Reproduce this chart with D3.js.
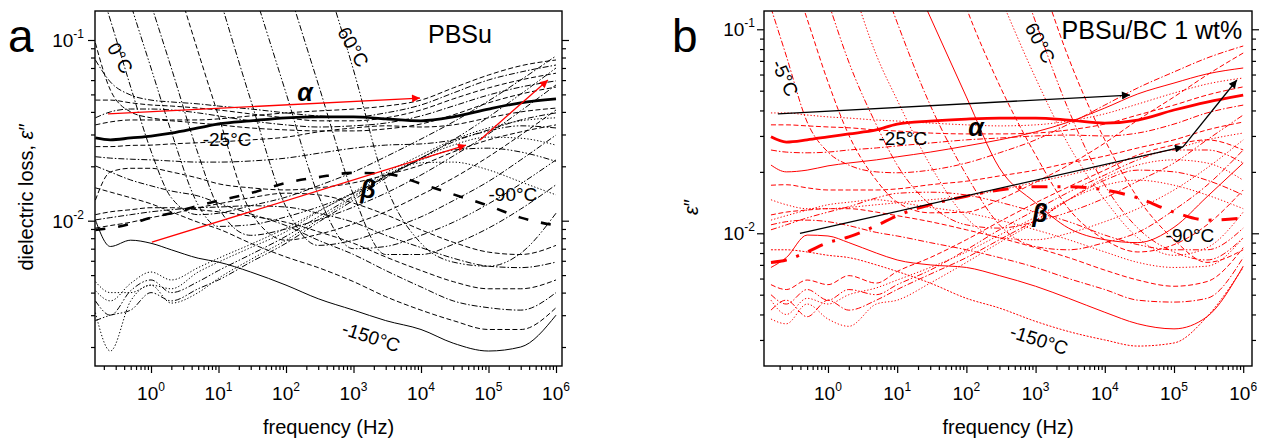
<!DOCTYPE html>
<html>
<head>
<meta charset="utf-8">
<script src="https://cdn.jsdelivr.net/npm/d3@7"></script>
<style>
  body { margin: 0; background: #fff; }
  svg { font-family: Arial, "Liberation Sans", Helvetica, sans-serif; }
</style>
</head>
<body>
<svg id="chart" width="1266" height="441"></svg>
<script>
// shared frequency grid (Hz)
const freq = [0.15, 0.25, 0.5, 1, 2, 5, 10, 30, 100, 300, 1e3, 3e3, 1e4, 3e4, 1e5, 3e5, 1e6];

// measurement temperatures (°C), one row of loss values per temperature
const temps = [-150, -140, -130, -120, -110, -100, -90, -80, -70, -60, -50, -45, -40, -35, -30,
  -25, -20, -15, -10, -5, 0, 5, 10, 15, 20, 30, 40, 50, 60];

// panel a : PBSu
const lossA = [
  [0.0101,0.0072,0.0078,0.0075,0.0069,0.0062,0.0059,0.0052,0.0044,0.0037,0.0032,0.0028,0.0025,0.0021,0.0019,0.0020,0.0030],
  [0.0152,0.0144,0.0134,0.0124,0.0112,0.0098,0.0090,0.0075,0.0063,0.0055,0.0046,0.0038,0.0032,0.0028,0.0025,0.0025,0.0033],
  [0.0201,0.0186,0.0168,0.0156,0.0146,0.0137,0.0125,0.0109,0.0094,0.0078,0.0065,0.0053,0.0043,0.0036,0.0033,0.0032,0.0040],
  [0.0108,0.0112,0.0115,0.0118,0.0118,0.0115,0.0112,0.0106,0.0098,0.0087,0.0075,0.0063,0.0053,0.0046,0.0042,0.0042,0.0047],
  [0.0101,0.0104,0.0108,0.0112,0.0115,0.0118,0.0119,0.0121,0.0119,0.0110,0.0098,0.0083,0.0071,0.0062,0.0056,0.0055,0.0059],
  [0.0091,0.0094,0.0098,0.0104,0.0109,0.0118,0.0124,0.0134,0.0142,0.0139,0.0125,0.0108,0.0089,0.0076,0.0067,0.0065,0.0073],
  [0.0089,0.0091,0.0096,0.0104,0.0110,0.0121,0.0129,0.0142,0.0162,0.0174,0.0184,0.0182,0.0160,0.0140,0.0121,0.0104,0.0094],
  [0.0041,0.0036,0.0045,0.0052,0.0047,0.0055,0.0062,0.0074,0.0091,0.0113,0.0142,0.0177,0.0209,0.0211,0.0191,0.0164,0.0139],
  [0.0036,0.0030,0.0041,0.0047,0.0040,0.0046,0.0053,0.0065,0.0082,0.0105,0.0137,0.0177,0.0217,0.0246,0.0252,0.0240,0.0213],
  [0.0031,0.0019,0.0036,0.0044,0.0035,0.0040,0.0048,0.0061,0.0078,0.0101,0.0134,0.0177,0.0222,0.0262,0.0290,0.0286,0.0262],
  [0.0028,0.0030,0.0032,0.0040,0.0036,0.0042,0.0047,0.0059,0.0075,0.0098,0.0130,0.0172,0.0222,0.0273,0.0314,0.0335,0.0326],
  [0.0130,0.0186,0.0195,0.0195,0.0186,0.0172,0.0160,0.0152,0.0148,0.0152,0.0162,0.0179,0.0203,0.0240,0.0280,0.0310,0.0339],
  [0.0046,0.0040,0.0040,0.0044,0.0042,0.0052,0.0059,0.0071,0.0087,0.0112,0.0144,0.0184,0.0231,0.0280,0.0326,0.0357,0.0371],
  [0.0226,0.0222,0.0219,0.0217,0.0214,0.0211,0.0211,0.0214,0.0222,0.0236,0.0252,0.0262,0.0266,0.0280,0.0318,0.0361,0.0395],
  [0.0257,0.0257,0.0261,0.0262,0.0266,0.0270,0.0273,0.0280,0.0290,0.0310,0.0326,0.0335,0.0330,0.0339,0.0371,0.0400,0.0420],
  [0.0287,0.0280,0.0287,0.0294,0.0305,0.0326,0.0343,0.0357,0.0371,0.0375,0.0375,0.0366,0.0357,0.0375,0.0415,0.0449,0.0472],
  [0.0339,0.0352,0.0361,0.0361,0.0357,0.0347,0.0339,0.0326,0.0318,0.0314,0.0314,0.0322,0.0343,0.0385,0.0449,0.0502,0.0549],
  [0.0371,0.0400,0.0415,0.0415,0.0410,0.0395,0.0380,0.0357,0.0339,0.0330,0.0335,0.0347,0.0380,0.0431,0.0496,0.0549,0.0594],
  [0.0465,0.0465,0.0449,0.0437,0.0431,0.0420,0.0410,0.0390,0.0371,0.0357,0.0357,0.0371,0.0410,0.0472,0.0543,0.0601,0.0655],
  [0.0775,0.0586,0.0496,0.0465,0.0454,0.0443,0.0431,0.0415,0.0395,0.0380,0.0375,0.0395,0.0437,0.0509,0.0601,0.0665,0.0727],
  [0.0963,0.0529,0.0400,0.0371,0.0361,0.0361,0.0366,0.0380,0.0395,0.0405,0.0415,0.0431,0.0465,0.0543,0.0640,0.0720,0.0775],
  [0.238,0.129,0.0549,0.0243,0.0134,0.0108,0.0110,0.0121,0.0135,0.0156,0.0186,0.0226,0.0283,0.0352,0.0460,0.0601,0.0816],
  [null,0.376,0.158,0.0700,0.0310,0.0122,0.0093,0.0095,0.0105,0.0119,0.0142,0.0174,0.0222,0.0280,0.0375,0.0502,0.0700],
  [null,null,0.358,0.158,0.0700,0.0234,0.0118,0.0083,0.0090,0.0101,0.0119,0.0142,0.0179,0.0228,0.0302,0.0405,0.0564],
  [null,null,null,null,0.260,0.0858,0.0380,0.0112,0.0078,0.0084,0.0096,0.0112,0.0139,0.0172,0.0226,0.0298,0.0410],
  [null,null,null,null,null,null,0.180,0.0465,0.0119,0.0073,0.0078,0.0089,0.0105,0.0129,0.0165,0.0217,0.0298],
  [null,null,null,null,null,null,null,0.212,0.0509,0.0139,0.0070,0.0072,0.0083,0.0098,0.0124,0.0160,0.0217],
  [null,null,null,null,null,null,null,null,0.212,0.0571,0.0139,0.0065,0.0065,0.0074,0.0091,0.0116,0.0158],
  [null,null,null,null,null,null,null,null,null,0.296,0.0682,0.0158,0.0075,0.0059,0.0056,0.0066,0.0110]
];

// panel b : PBSu/BC 1 wt%
const lossB = [
  [0.0083,0.0083,0.0081,0.0078,0.0076,0.0070,0.0065,0.0057,0.0048,0.0043,0.0037,0.0033,0.0030,0.0028,0.0029,0.0039,0.0068],
  [0.0068,0.0076,0.0098,0.0097,0.0090,0.0080,0.0074,0.0070,0.0068,0.0062,0.0055,0.0048,0.0041,0.0036,0.0034,0.0039,0.0069],
  [0.0110,0.0114,0.0116,0.0114,0.0109,0.0101,0.0097,0.0090,0.0083,0.0076,0.0068,0.0060,0.0053,0.0047,0.0046,0.0048,0.0076],
  [0.0123,0.0127,0.0130,0.0132,0.0132,0.0127,0.0122,0.0114,0.0104,0.0095,0.0085,0.0076,0.0066,0.0059,0.0055,0.0058,0.0085],
  [0.0116,0.0122,0.0130,0.0138,0.0142,0.0146,0.0142,0.0134,0.0126,0.0116,0.0104,0.0093,0.0081,0.0072,0.0068,0.0069,0.0095],
  [0.0104,0.0110,0.0119,0.0127,0.0135,0.0149,0.0157,0.0159,0.0154,0.0142,0.0127,0.0114,0.0098,0.0088,0.0083,0.0083,0.0106],
  [0.0072,0.0074,0.0081,0.0090,0.0096,0.0109,0.0122,0.0138,0.0152,0.0163,0.0169,0.0169,0.0163,0.0149,0.0127,0.0116,0.0119],
  [0.0047,0.0040,0.0048,0.0045,0.0050,0.0054,0.0059,0.0068,0.0081,0.0098,0.0120,0.0146,0.0172,0.0182,0.0172,0.0154,0.0132],
  [0.0042,0.0047,0.0039,0.0047,0.0042,0.0047,0.0053,0.0063,0.0076,0.0093,0.0116,0.0146,0.0182,0.0204,0.0200,0.0182,0.0154],
  [0.0038,0.0036,0.0045,0.0038,0.0035,0.0045,0.0047,0.0057,0.0072,0.0090,0.0114,0.0146,0.0187,0.0216,0.0229,0.0221,0.0182],
  [0.0050,0.0045,0.0053,0.0047,0.0053,0.0050,0.0056,0.0066,0.0083,0.0104,0.0130,0.0159,0.0193,0.0229,0.0256,0.0256,0.0221],
  [0.0146,0.0138,0.0132,0.0132,0.0134,0.0138,0.0141,0.0146,0.0152,0.0163,0.0178,0.0193,0.0214,0.0237,0.0259,0.0287,0.0310],
  [0.0056,0.0053,0.0059,0.0056,0.0062,0.0057,0.0065,0.0076,0.0093,0.0114,0.0141,0.0169,0.0204,0.0242,0.0271,0.0287,0.0256],
  [0.0172,0.0173,0.0167,0.0163,0.0163,0.0163,0.0165,0.0173,0.0180,0.0191,0.0204,0.0221,0.0239,0.0262,0.0287,0.0321,0.0351],
  [0.0256,0.0250,0.0248,0.0250,0.0256,0.0262,0.0268,0.0277,0.0287,0.0293,0.0300,0.0303,0.0300,0.0310,0.0343,0.0389,0.0425],
  [0.0297,0.0280,0.0287,0.0297,0.0307,0.0321,0.0343,0.0355,0.0363,0.0367,0.0367,0.0359,0.0347,0.0359,0.0402,0.0440,0.0476],
  [0.0340,0.0340,0.0336,0.0332,0.0329,0.0321,0.0317,0.0310,0.0307,0.0307,0.0310,0.0321,0.0343,0.0380,0.0425,0.0476,0.0522],
  [0.0389,0.0389,0.0380,0.0372,0.0367,0.0359,0.0355,0.0347,0.0340,0.0336,0.0340,0.0355,0.0385,0.0430,0.0487,0.0539,0.0577],
  [0.0216,0.0200,0.0204,0.0214,0.0221,0.0229,0.0237,0.0250,0.0268,0.0287,0.0314,0.0351,0.0411,0.0482,0.0545,0.0604,0.0646],
  [0.1272,0.0740,0.0351,0.0250,0.0216,0.0200,0.0198,0.0204,0.0221,0.0248,0.0287,0.0343,0.0425,0.0516,0.0618,0.0723,0.0828],
  [null,0.2288,0.1123,0.0552,0.0303,0.0182,0.0142,0.0126,0.0127,0.0146,0.0178,0.0216,0.0277,0.0359,0.0466,0.0597,0.0765],
  [null,null,null,0.1376,0.0691,0.0340,0.0216,0.0138,0.0110,0.0106,0.0114,0.0127,0.0149,0.0180,0.0221,0.0287,0.0380],
  [null,null,null,null,0.1867,0.0748,0.0450,0.0216,0.0119,0.0095,0.0093,0.0100,0.0114,0.0132,0.0163,0.0209,0.0287],
  [null,null,null,null,null,0.2066,0.1079,0.0425,0.0193,0.0110,0.0086,0.0083,0.0090,0.0101,0.0130,0.0172,0.0256],
  [null,null,null,null,null,null,0.2590,0.1149,0.0466,0.0209,0.0141,0.0106,0.0093,0.0090,0.0107,0.0151,0.0221],
  [null,null,null,null,null,null,null,0.430,0.1272,0.0533,0.0242,0.0132,0.0093,0.0081,0.0088,0.0110,0.0163],
  [null,null,null,null,null,null,null,null,null,0.1473,0.0577,0.0271,0.0146,0.0095,0.0078,0.0085,0.0127],
  [null,null,null,null,null,null,null,null,null,0.355,0.1086,0.0402,0.0172,0.0106,0.0081,0.0074,0.0095],
  [null,null,null,null,null,null,null,null,null,null,0.2138,0.0723,0.0287,0.0149,0.0093,0.0072,0.0083]
];

// relaxation-trace arrows, [frequency, loss] start and end
const arrowsA = [
  [[0.231, 0.0390], [9670, 0.0477]],
  [[1.03, 0.0076], [46400, 0.0262]],
  [[74800, 0.0280], [7.6e5, 0.0601]]
];
const arrowsB = [
  [[0.189, 0.0385], [23100, 0.0476]],
  [[0.394, 0.0100], [1.35e5, 0.0265]],
  [[1.35e5, 0.0265], [8.1e5, 0.0564]]
];

// text annotations placed at [frequency, loss]
const labelsA = [
  { text: "0°C", f: 0.347, e: 0.0795, rot: 60 },
  { text: "60°C", f: 984, e: 0.0915, rot: 60 },
  { text: "-25°C", f: 13.4, e: 0.0283, rot: 0 },
  { text: "-90°C", f: 2.3e5, e: 0.0139, rot: 0 },
  { text: "-150°C", f: 1815, e: 0.00227, rot: 18 }
];
const labelsB = [
  { text: "-5°C", f: 0.239, e: 0.0577, rot: 65 },
  { text: "60°C", f: 1158, e: 0.0857, rot: 62 },
  { text: "-25°C", f: 12.1, e: 0.0290, rot: 0 },
  { text: "-90°C", f: 1.7e5, e: 0.0097, rot: 0 },
  { text: "-150°C", f: 1120, e: 0.0030, rot: 18 }
];
const greekA = [{ text: "α", f: 191, e: 0.0518 }, { text: "β", f: 1640, e: 0.0150 }];
const greekB = [{ text: "α", f: 138, e: 0.0332 }, { text: "β", f: 1158, e: 0.0126 }];

const xTickExp = [0, 1, 2, 3, 4, 5, 6];
const yTickExp = [-2, -1];

// line styles per temperature row
const stylesA = ["solid","dash","dashdot","dash","dashdot","dash","thickdash","dot","dashdotdot","dot",
  "dashdotdot","dash","dot","dashdot","dash","thick","dash","dashdot","dash","dashdot","dash",
  "dashdot","dashdotdot","dashdot","dash","dashdot","dashdotdot","dashdot","dashdotdot"];
const stylesB = ["fine","solid","dashdot","dash","dot","dashdotdot","thickdashdot","dot","dashdot","dot",
  "dashdotdot","dot","dash","dash","dashdot","thick","dash","dot","solid","dashdot","dash",
  "dashdotdot","dot","dashdot","solid","dash","dot","dashdotdot","dash"];

const dashes = {
  solid: null, thick: null, dash: "5,2.5", dot: "1.3,2", fine: "2,1.5",
  dashdot: "6,2,1.5,2", dashdotdot: "6,2,1.5,2,1.5,2",
  thickdash: "10,13", thickdashdot: "16,10,3,10"
};
const widths = { thick: 2.8, thickdash: 2.6, thickdashdot: 3 };

const svg = d3.select("#chart");
const defs = svg.append("defs");

function arrowMarker(id, color) {
  defs.append("marker")
    .attr("id", id)
    .attr("viewBox", "0 0 10 10")
    .attr("refX", 10).attr("refY", 5)
    .attr("markerUnits", "userSpaceOnUse")
    .attr("markerWidth", 12).attr("markerHeight", 8)
    .attr("orient", "auto")
    .append("path").attr("d", "M0,0 L10,5 L0,10 z").attr("fill", color);
}
arrowMarker("arrow-red", "#ff0000");
arrowMarker("arrow-black", "#000");

function drawPanel(p) {
  const x = d3.scaleLog().domain(p.xDomain).range([p.left, p.right]);
  const y = d3.scaleLog().domain(p.yDomain).range([p.bottom, p.top]);
  const g = svg.append("g");

  defs.append("clipPath").attr("id", "clip-" + p.id)
    .append("rect")
    .attr("x", p.left).attr("y", p.top)
    .attr("width", p.right - p.left).attr("height", p.bottom - p.top);

  const line = d3.line()
    .defined(d => d[1] != null)
    .x(d => x(d[0]))
    .y(d => y(d[1]))
    .curve(d3.curveMonotoneX);

  const plot = g.append("g").attr("clip-path", `url(#clip-${p.id})`);

  // thin curves first, the highlighted thick ones on top
  const order = d3.range(p.loss.length).sort((a, b) =>
    (widths[p.styles[a]] || 1) - (widths[p.styles[b]] || 1));
  order.forEach(i => {
    const s = p.styles[i];
    plot.append("path")
      .datum(freq.map((f, j) => [f, p.loss[i][j]]))
      .attr("d", line)
      .attr("fill", "none")
      .attr("stroke", p.color)
      .attr("stroke-width", widths[s] || 1)
      .attr("stroke-dasharray", dashes[s])
      .attr("stroke-linejoin", "round");
  });

  p.arrows.forEach(a => {
    plot.append("line")
      .attr("x1", x(a[0][0])).attr("y1", y(a[0][1]))
      .attr("x2", x(a[1][0])).attr("y2", y(a[1][1]))
      .attr("stroke", p.arrowColor).attr("stroke-width", 1.3)
      .attr("marker-end", `url(#${p.marker})`);
  });

  // axes: minor and major ticks, outward, bottom / left / right
  const minorX = [], minorY = [];
  for (let k = -2; k <= 6; k++) {
    for (let m = 2; m <= 9; m++) {
      const v = m * Math.pow(10, k);
      if (v >= p.xDomain[0] && v <= p.xDomain[1]) minorX.push(v);
    }
  }
  for (let k = -4; k <= 0; k++) {
    for (let m = 2; m <= 9; m++) {
      const v = m * Math.pow(10, k);
      if (v >= p.yDomain[0] && v <= p.yDomain[1]) minorY.push(v);
    }
  }
  const majorX = xTickExp.map(k => Math.pow(10, k));
  const majorY = yTickExp.map(k => Math.pow(10, k));

  const axes = [
    [d3.axisBottom(x), `translate(0,${p.bottom})`, minorX, majorX],
    [d3.axisLeft(y), `translate(${p.left},0)`, minorY, majorY],
    [d3.axisRight(y), `translate(${p.right},0)`, minorY, majorY]
  ];
  axes.forEach(([ax, tr, minor, major]) => {
    [[minor, 4], [major, 7]].forEach(([vals, size]) => {
      const a = g.append("g").attr("transform", tr)
        .call(ax.tickValues(vals).tickSize(size).tickSizeOuter(0).tickFormat(""));
      a.select(".domain").remove();
      a.selectAll(".tick line").attr("stroke", "#000").attr("stroke-width", 1.2);
    });
  });

  xTickExp.forEach(k => {
    const t = g.append("text")
      .attr("x", x(Math.pow(10, k))).attr("y", p.bottom + 34)
      .attr("text-anchor", "middle").attr("font-size", 19);
    t.append("tspan").text("10");
    t.append("tspan").attr("dy", -9).attr("font-size", 12).text(k);
  });
  yTickExp.forEach(k => {
    const t = g.append("text")
      .attr("x", p.left - p.yLabelGap).attr("y", y(Math.pow(10, k)) + 7)
      .attr("text-anchor", "end").attr("font-size", 19);
    t.append("tspan").text("10");
    t.append("tspan").attr("dy", -9).attr("font-size", 12).text(k);
  });

  g.append("rect")
    .attr("x", p.left).attr("y", p.top)
    .attr("width", p.right - p.left).attr("height", p.bottom - p.top)
    .attr("fill", "none").attr("stroke", "#000").attr("stroke-width", 1.4);

  // annotations
  p.labels.forEach(l => {
    g.append("text")
      .attr("transform", `translate(${x(l.f)},${y(l.e)}) rotate(${l.rot})`)
      .attr("text-anchor", "middle").attr("dominant-baseline", "central")
      .attr("font-size", 19).text(l.text);
  });
  p.greek.forEach(l => {
    g.append("text")
      .attr("x", x(l.f)).attr("y", y(l.e))
      .attr("text-anchor", "middle").attr("dominant-baseline", "central")
      .attr("font-size", 25).attr("font-weight", "bold").attr("font-style", "italic")
      .text(l.text);
  });
  g.append("text")
    .attr("x", x(p.titlePos[0])).attr("y", y(p.titlePos[1]))
    .attr("text-anchor", "middle").attr("dominant-baseline", "central")
    .attr("font-size", 25).text(p.title);

  g.append("text")
    .attr("x", (p.left + p.right) / 2).attr("y", 434)
    .attr("text-anchor", "middle").attr("font-size", 20)
    .text("frequency (Hz)");

  const yt = g.append("text")
    .attr("transform", `translate(${p.yTitleX},${p.yTitleY}) rotate(-90)`)
    .attr("text-anchor", "middle").attr("font-size", 20);
  yt.append("tspan").text(p.yTitle);
  yt.append("tspan").attr("font-style", "italic").text("ε");
  yt.append("tspan").text("\u2033");

  g.append("text")
    .attr("x", p.letterX).attr("y", 52)
    .attr("font-size", 46).text(p.letter);
}

drawPanel({
  id: "a", letter: "a", letterX: 8,
  left: 95, right: 562, top: 11, bottom: 366,
  xDomain: [0.148, 1.227e6], yDomain: [0.00157, 0.1447],
  color: "#000", loss: lossA, styles: stylesA,
  arrows: arrowsA, arrowColor: "#ff0000", marker: "arrow-red",
  labels: labelsA, greek: greekA,
  title: "PBSu", titlePos: [37800, 0.108],
  yTitle: "dielectric loss, ", yTitleX: 33, yTitleY: 197, yLabelGap: 11
});

drawPanel({
  id: "b", letter: "b", letterX: 672,
  left: 764, right: 1252, top: 11, bottom: 366,
  xDomain: [0.119, 1.34e6], yDomain: [0.002236, 0.1229],
  color: "#ff0000", loss: lossB, styles: stylesB,
  arrows: arrowsB, arrowColor: "#000", marker: "arrow-black",
  labels: labelsB, greek: greekB,
  title: "PBSu/BC 1 wt%", titlePos: [48000, 0.0992],
  yTitle: "", yTitleX: 698, yTitleY: 207, yLabelGap: 9
});
</script>
</body>
</html>
